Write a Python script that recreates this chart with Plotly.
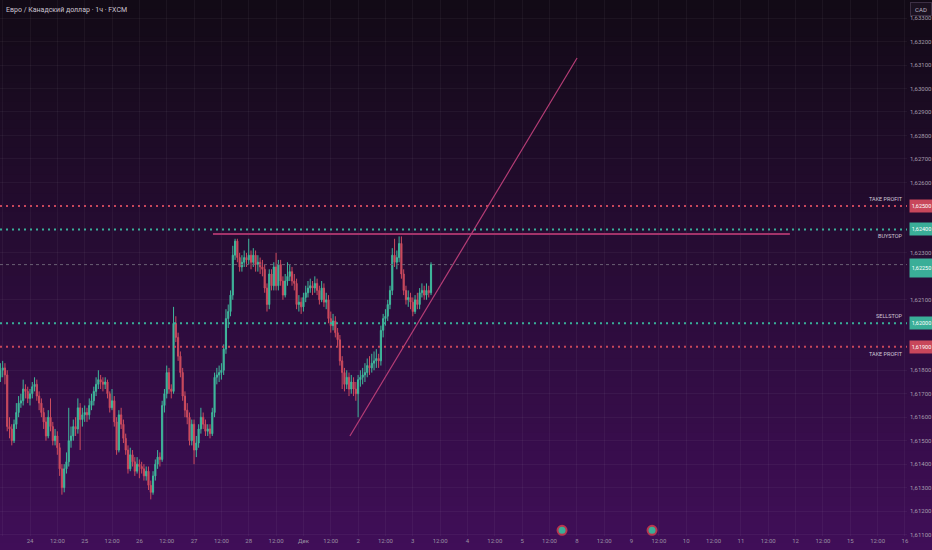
import plotly.graph_objects as go

title_text = "Евро / Канадский доллар · 1ч · FXCM"

# hourly candles, hour 0 = Nov 24 00:00 (weekends skipped)
hours = list(range(-13, 177))
first_open = 1.6177
closes = [
    1.6180, 1.6181, 1.6178, 1.6156, 1.6155, 1.6150, 1.6157, 1.6162, 1.6166, 1.6167,
    1.6172, 1.6171, 1.6168, 1.6170, 1.6173, 1.6174, 1.6169, 1.6166, 1.6162, 1.6158,
    1.6152, 1.6160, 1.6156, 1.6150, 1.6152, 1.6147, 1.6138, 1.6130, 1.6138, 1.6141,
    1.6150, 1.6152, 1.6156, 1.6155, 1.6164, 1.6159, 1.6161, 1.6162, 1.6161, 1.6165,
    1.6167, 1.6171, 1.6174, 1.6176, 1.6175, 1.6174, 1.6175, 1.6170, 1.6164, 1.6167,
    1.6158, 1.6146, 1.6161, 1.6157, 1.6151, 1.6146, 1.6138, 1.6144, 1.6141, 1.6137,
    1.6140, 1.6139, 1.6138, 1.6135, 1.6137, 1.6131, 1.6128, 1.6135, 1.6140, 1.6143,
    1.6142, 1.6165, 1.6170, 1.6179, 1.6172, 1.6171, 1.6200, 1.6194, 1.6186, 1.6179,
    1.6169, 1.6163, 1.6160, 1.6150, 1.6157, 1.6146, 1.6149, 1.6155, 1.6160, 1.6157,
    1.6154, 1.6155, 1.6153, 1.6162, 1.6177, 1.6178, 1.6179, 1.6180, 1.6189, 1.6202,
    1.6205, 1.6212, 1.6229, 1.6235, 1.6228, 1.6224, 1.6226, 1.6228, 1.6227, 1.6229,
    1.6226, 1.6229, 1.6225, 1.6226, 1.6224, 1.6223, 1.6215, 1.6208, 1.6221, 1.6216,
    1.6224, 1.6216, 1.6225, 1.6218, 1.6212, 1.6218, 1.6220, 1.6222, 1.6218, 1.6217,
    1.6208, 1.6209, 1.6207, 1.6211, 1.6213, 1.6215, 1.6216, 1.6215, 1.6217, 1.6214,
    1.6210, 1.6215, 1.6209, 1.6210, 1.6202, 1.6199, 1.6201, 1.6196, 1.6193, 1.6184,
    1.6179, 1.6174, 1.6177, 1.6172, 1.6175, 1.6172, 1.6170, 1.6176, 1.6177, 1.6178,
    1.6179, 1.6182, 1.6181, 1.6183, 1.6184, 1.6185, 1.6184, 1.6197, 1.6202, 1.6203,
    1.6208, 1.6214, 1.6229, 1.6226, 1.6228, 1.6234, 1.6221, 1.6214, 1.6210, 1.6211,
    1.6209, 1.6205, 1.6210, 1.6208, 1.6213, 1.6214, 1.6212, 1.6214, 1.6213, 1.6225,
]
highs = [
    1.6183, 1.6184, 1.6183, 1.6180, 1.6160, 1.6157, 1.6159, 1.6166, 1.6169, 1.6170,
    1.6176, 1.6174, 1.6173, 1.6172, 1.6175, 1.6177, 1.6176, 1.6171, 1.6168, 1.6164,
    1.6160, 1.6163, 1.6168, 1.6158, 1.6155, 1.6154, 1.6149, 1.6140, 1.6140, 1.6145,
    1.6164, 1.6156, 1.6159, 1.6160, 1.6168, 1.6166, 1.6164, 1.6165, 1.6164, 1.6168,
    1.6170, 1.6173, 1.6177, 1.6180, 1.6178, 1.6177, 1.6177, 1.6176, 1.6171, 1.6172,
    1.6169, 1.6160, 1.6163, 1.6164, 1.6159, 1.6153, 1.6148, 1.6147, 1.6146, 1.6143,
    1.6143, 1.6142, 1.6141, 1.6140, 1.6139, 1.6139, 1.6133, 1.6137, 1.6142, 1.6146,
    1.6145, 1.6167, 1.6172, 1.6182, 1.6181, 1.6174, 1.6207, 1.6203, 1.6196, 1.6188,
    1.6181, 1.6171, 1.6166, 1.6162, 1.6159, 1.6159, 1.6152, 1.6157, 1.6164, 1.6162,
    1.6159, 1.6157, 1.6157, 1.6164, 1.6179, 1.6181, 1.6182, 1.6183, 1.6191, 1.6206,
    1.6208, 1.6214, 1.6233, 1.6236, 1.6236, 1.6230, 1.6229, 1.6231, 1.6230, 1.6236,
    1.6231, 1.6232, 1.6231, 1.6229, 1.6228, 1.6227, 1.6225, 1.6217, 1.6223, 1.6223,
    1.6226, 1.6230, 1.6227, 1.6227, 1.6220, 1.6221, 1.6226, 1.6225, 1.6224, 1.6221,
    1.6219, 1.6212, 1.6211, 1.6213, 1.6216, 1.6218, 1.6219, 1.6218, 1.6220, 1.6219,
    1.6216, 1.6218, 1.6217, 1.6213, 1.6212, 1.6205, 1.6204, 1.6203, 1.6198, 1.6195,
    1.6186, 1.6181, 1.6180, 1.6179, 1.6178, 1.6177, 1.6175, 1.6178, 1.6180, 1.6181,
    1.6183, 1.6185, 1.6186, 1.6187, 1.6188, 1.6189, 1.6187, 1.6199, 1.6204, 1.6206,
    1.6210, 1.6216, 1.6232, 1.6236, 1.6231, 1.6237, 1.6237, 1.6223, 1.6216, 1.6214,
    1.6213, 1.6211, 1.6212, 1.6213, 1.6215, 1.6217, 1.6216, 1.6217, 1.6216, 1.6226,
]
lows = [
    1.6175, 1.6177, 1.6174, 1.6154, 1.6151, 1.6148, 1.6149, 1.6155, 1.6160, 1.6164,
    1.6165, 1.6168, 1.6166, 1.6165, 1.6168, 1.6171, 1.6167, 1.6163, 1.6160, 1.6155,
    1.6150, 1.6151, 1.6154, 1.6148, 1.6148, 1.6144, 1.6135, 1.6127, 1.6128, 1.6136,
    1.6139, 1.6147, 1.6150, 1.6152, 1.6153, 1.6146, 1.6156, 1.6158, 1.6158, 1.6159,
    1.6163, 1.6165, 1.6169, 1.6172, 1.6172, 1.6171, 1.6172, 1.6168, 1.6162, 1.6163,
    1.6156, 1.6144, 1.6145, 1.6155, 1.6149, 1.6144, 1.6136, 1.6137, 1.6139, 1.6135,
    1.6136, 1.6134, 1.6136, 1.6133, 1.6133, 1.6129, 1.6125, 1.6127, 1.6133, 1.6138,
    1.6139, 1.6141, 1.6162, 1.6168, 1.6170, 1.6168, 1.6170, 1.6192, 1.6184, 1.6177,
    1.6167, 1.6160, 1.6157, 1.6148, 1.6148, 1.6140, 1.6143, 1.6147, 1.6153, 1.6155,
    1.6152, 1.6152, 1.6151, 1.6152, 1.6160, 1.6174, 1.6175, 1.6176, 1.6178, 1.6187,
    1.6198, 1.6203, 1.6210, 1.6227, 1.6226, 1.6222, 1.6222, 1.6224, 1.6224, 1.6225,
    1.6223, 1.6224, 1.6222, 1.6222, 1.6221, 1.6220, 1.6213, 1.6205, 1.6206, 1.6214,
    1.6214, 1.6214, 1.6214, 1.6216, 1.6210, 1.6211, 1.6216, 1.6218, 1.6216, 1.6214,
    1.6206, 1.6205, 1.6204, 1.6205, 1.6209, 1.6211, 1.6213, 1.6212, 1.6213, 1.6212,
    1.6208, 1.6209, 1.6207, 1.6206, 1.6200, 1.6196, 1.6197, 1.6194, 1.6190, 1.6182,
    1.6172, 1.6171, 1.6172, 1.6169, 1.6170, 1.6169, 1.6167, 1.6160, 1.6173, 1.6174,
    1.6175, 1.6177, 1.6178, 1.6179, 1.6180, 1.6181, 1.6181, 1.6182, 1.6194, 1.6199,
    1.6201, 1.6206, 1.6212, 1.6224, 1.6223, 1.6226, 1.6219, 1.6212, 1.6208, 1.6207,
    1.6206, 1.6203, 1.6204, 1.6206, 1.6206, 1.6211, 1.6210, 1.6210, 1.6211, 1.6212,
]

# time axis labels
day_hours = [0, 24, 48, 72, 96, 120, 144, 168, 192, 216, 240, 264, 288, 312, 336, 360, 384]
day_labels = ["24", "25", "26", "27", "28", "Дек", "2", "3", "4", "5",
              "8", "9", "10", "11", "12", "15", "16"]
noon_label = "12:00"

# price scale labels (the ones hidden under the order boxes are left out)
price_ticks = [1.611, 1.612, 1.613, 1.614, 1.615, 1.616, 1.617, 1.618,
               1.621, 1.623, 1.626, 1.627, 1.628, 1.629, 1.630, 1.631,
               1.632, 1.633]

# order levels
level_names = ["TAKE PROFIT", "BUYSTOP", "SELLSTOP", "TAKE PROFIT"]
level_prices = [1.6250, 1.6240, 1.6200, 1.6190]
level_kinds = ["tp", "stop", "stop", "tp"]

# drawings
resist_hours = [80.3, 333.5]
resist_prices = [1.6238, 1.6238]
trend_hours = [140.4, 240.1]
trend_prices = [1.6152, 1.6313]

event_hours = [233.5, 273.0]

# colours
UP = "#3fb89c"
DOWN = "#cc4b5e"
TP_COL = "#c8475b"
STOP_COL = "#3aae98"
TEXT = "#a79fae"

opens = [first_open] + closes[:-1]
highs = [max(h, o, c) for h, o, c in zip(highs, opens, closes)]
lows = [min(l, o, c) for l, o, c in zip(lows, opens, closes)]
last_price = closes[-1]

fig = go.Figure()

fig.add_trace(go.Candlestick(
    x=hours, open=opens, high=highs, low=lows, close=closes,
    increasing=dict(line=dict(color=UP, width=1), fillcolor=UP),
    decreasing=dict(line=dict(color=DOWN, width=1), fillcolor=DOWN),
    whiskerwidth=0, showlegend=False, hoverinfo="skip",
))

fig.add_trace(go.Scatter(
    x=resist_hours, y=resist_prices, mode="lines",
    line=dict(color="#a3336a", width=2), showlegend=False, hoverinfo="skip",
))
fig.add_trace(go.Scatter(
    x=trend_hours, y=trend_prices, mode="lines",
    line=dict(color="#b63d76", width=1.2), showlegend=False, hoverinfo="skip",
))
fig.add_trace(go.Scatter(
    x=event_hours, y=[1.61118] * len(event_hours), mode="markers",
    marker=dict(size=9, color=STOP_COL, line=dict(color="#b8364f", width=2)),
    cliponaxis=False, showlegend=False, hoverinfo="skip",
))

# gradient background
shapes = []
top_rgb = (18, 10, 22)
bot_rgb = (64, 14, 88)
bands = 60
y_top, y_bot = 1.0, -0.03
for i in range(bands):
    f = i / (bands - 1)
    col = tuple(round(a + (b - a) * f) for a, b in zip(top_rgb, bot_rgb))
    y1 = y_top - (y_top - y_bot) * i / bands
    y0 = y_top - (y_top - y_bot) * (i + 1) / bands - 0.002
    shapes.append(dict(
        type="rect", xref="paper", yref="paper", x0=-0.01, x1=1.04,
        y0=y0, y1=y1, layer="below", line=dict(width=0),
        fillcolor="rgb(%d,%d,%d)" % col,
    ))

# order level lines
for price, kind in zip(level_prices, level_kinds):
    col = TP_COL if kind == "tp" else STOP_COL
    shapes.append(dict(
        type="line", xref="paper", yref="y", x0=0, x1=1, y0=price, y1=price,
        line=dict(color=col, width=2, dash="2px,4px"), layer="above",
    ))

# current price line
shapes.append(dict(
    type="line", xref="paper", yref="y", x0=0, x1=1, y0=last_price, y1=last_price,
    line=dict(color="#6a5f73", width=1, dash="3px,3px"), layer="above",
))

annotations = [
    dict(text=title_text, xref="paper", yref="paper", x=0.004, y=0.993,
         xanchor="left", yanchor="top", showarrow=False,
         font=dict(size=7, color="#cbc4d0")),
    dict(text="CAD", xref="paper", yref="paper", x=1, y=1, yshift=-2, xshift=3,
         xanchor="left", yanchor="top", showarrow=False, width=18, height=10,
         bgcolor="#1b1120", bordercolor="#3d3045", borderwidth=1,
         font=dict(size=6, color="#bdb5c4")),
]


def price_text(p):
    return ("%.5f" % p).replace(".", ",")


for name, price, kind in zip(level_names, level_prices, level_kinds):
    col = TP_COL if kind == "tp" else STOP_COL
    above = name == "SELLSTOP" or (name == "TAKE PROFIT" and price > last_price)
    annotations.append(dict(
        text=name, xref="paper", yref="y", x=0.998, y=price,
        xanchor="right", yanchor="bottom" if above else "top",
        yshift=2 if above else -2, showarrow=False,
        font=dict(size=5.5, color="#cfc6d4"),
    ))
    annotations.append(dict(
        text=price_text(price), xref="paper", yref="y", x=1, y=price, xshift=2,
        xanchor="left", yanchor="middle", showarrow=False, width=21, height=10,
        bgcolor=col, font=dict(size=5.5, color="#ffffff"),
    ))

annotations.append(dict(
    text=price_text(last_price), xref="paper", yref="y", x=1, y=last_price,
    xshift=2, yshift=-3, xanchor="left", yanchor="middle", showarrow=False,
    width=21, height=16, bgcolor=STOP_COL, font=dict(size=5.5, color="#ffffff"),
))

tick_vals = [-12]
tick_text = [noon_label]
for h, lab in zip(day_hours, day_labels):
    tick_vals += [h, h + 12]
    tick_text += [lab, noon_label]

fig.update_layout(
    width=932, height=550,
    margin=dict(l=0, r=25, t=0, b=14),
    paper_bgcolor="rgb(64,14,88)",
    plot_bgcolor="rgba(0,0,0,0)",
    separators=", ",
    font=dict(family="Roboto, Liberation Sans, sans-serif", color=TEXT),
    shapes=shapes,
    annotations=annotations,
    showlegend=False,
    xaxis=dict(
        range=[-13.17, 384.9], tickvals=tick_vals, ticktext=tick_text,
        showgrid=True, gridcolor="rgba(255,255,255,0.045)", gridwidth=1,
        zeroline=False, showline=False, ticks="",
        tickfont=dict(size=6, color="#9a90a3"),
        rangeslider=dict(visible=False), fixedrange=True,
    ),
    yaxis=dict(
        side="right", range=[1.61094, 1.63377], tickvals=price_ticks,
        tickformat=".5f", showgrid=True, gridcolor="rgba(255,255,255,0.045)",
        zeroline=False, showline=False, ticks="", ticklabelstandoff=2,
        tickfont=dict(size=6, color="#a49cab"), fixedrange=True,
    ),
)

fig.write_html(
    "out.html",
    config={"displayModeBar": False},
    post_script="document.body.style.margin='0';",
)
